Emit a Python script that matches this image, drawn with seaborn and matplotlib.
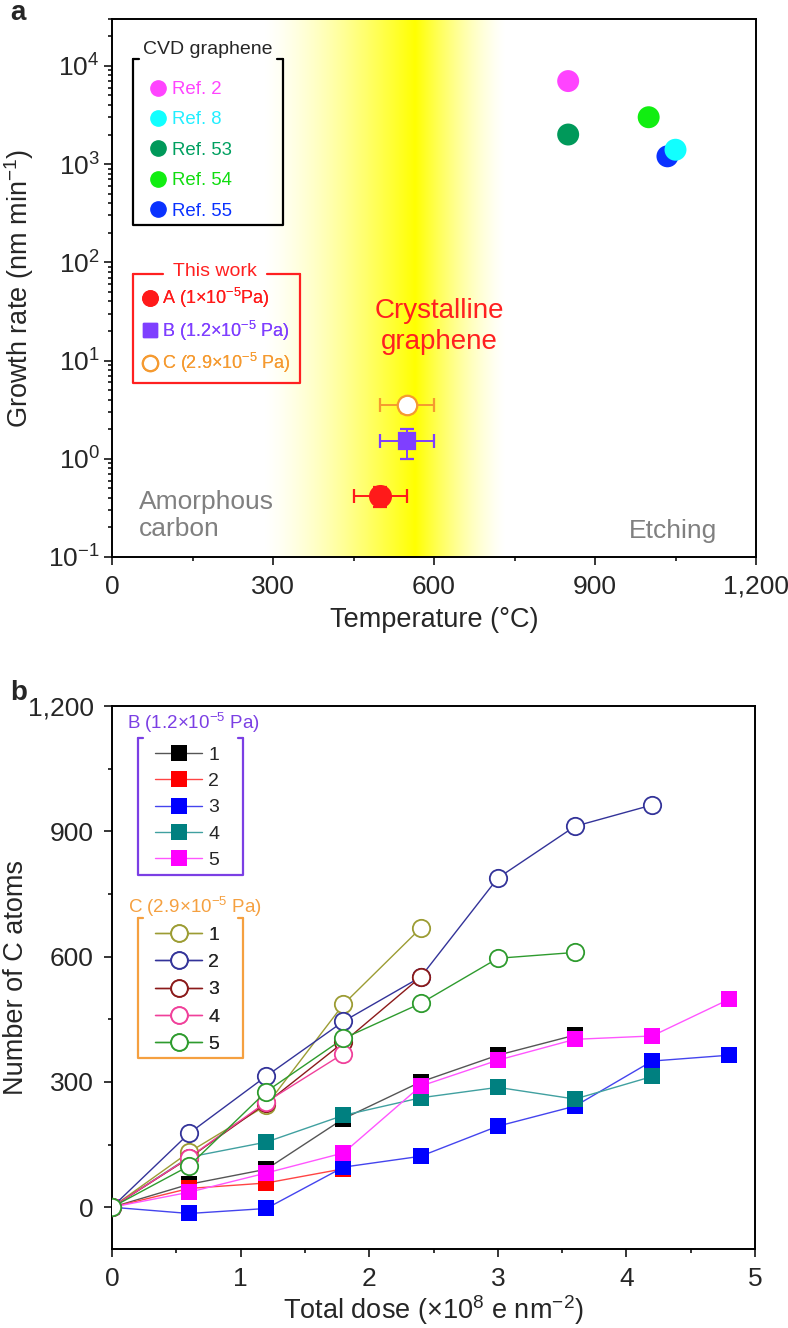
import numpy as np
import pandas as pd
import matplotlib
matplotlib.use('Agg')
import matplotlib.pyplot as plt
from matplotlib.lines import Line2D
from matplotlib.ticker import MultipleLocator, StrMethodFormatter, LogLocator, NullFormatter
import seaborn as sns

# ---- panel a : growth rate vs temperature ----
cvd_refs = ['Ref. 2', 'Ref. 8', 'Ref. 53', 'Ref. 54', 'Ref. 55']
cvd_temp = [850, 1050, 850, 1000, 1035]
cvd_rate = [7000, 1400, 2000, 3000, 1200]
cvd_colors = ['#ff44ff', '#11ffff', '#00995a', '#11ee11', '#0a32ff']
cvd_text_colors = ['#ff44ff', '#22eeff', '#00a060', '#11dd11', '#0a32ff']
cvd_draw_order = ['Ref. 2', 'Ref. 53', 'Ref. 54', 'Ref. 55', 'Ref. 8']

work_labels = ['A (1×10$^{-5}$Pa)', 'B (1.2×10$^{-5}$ Pa)', 'C (2.9×10$^{-5}$ Pa)']
work_temp = [500, 550, 550]
work_temp_err = [50, 50, 50]
work_rate = [0.42, 1.5, 3.5]
work_rate_lo = [0.1, 0.5, 0.6]
work_rate_hi = [0.1, 0.5, 0.6]
work_colors = ['#ff1a1a', '#7f3fff', '#f59a30']

# ---- panel b : number of C atoms vs total dose ----
dose = [0, 0.6, 1.2, 1.8, 2.4, 3.0, 3.6, 4.2, 4.8]
b_series = {
    '1': [0, 55, 91, 212, 300, 364, 412],
    '2': [0, 45, 58, 92],
    '3': [0, -15, -3, 96, 122, 194, 242, 350, 364],
    '4': [0, 120, 156, 220, 262, 287, 259, 313],
    '5': [0, 36, 82, 130, 290, 352, 402, 410, 498],
}
c_series = {
    '1': [0, 132, 244, 486, 668],
    '2': [0, 177, 314, 445, 551, 788, 912, 963],
    '3': [0, 118, 249, 395, 551],
    '4': [0, 119, 252, 368],
    '5': [0, 99, 277, 404, 488, 596, 610],
}
b_marker_colors = ['#000000', '#ff0000', '#0000ff', '#008080', '#ff00ff']
b_line_colors = ['#555555', '#ff4444', '#4444ee', '#40a0a0', '#ff55ff']
c_colors = ['#9c9c33', '#333399', '#8b1a1a', '#f0409a', '#2e9b2e']

B_COL = '#7b3fe4'
C_COL = '#f5a040'
RED = '#ff2020'
TICK_FS = 19
LABEL_FS = 19.5

sns.set_theme(style='ticks')
plt.rcParams['font.family'] = ['Liberation Sans', 'DejaVu Sans']
plt.rcParams['mathtext.fontset'] = 'custom'
plt.rcParams['mathtext.rm'] = 'Liberation Sans'
plt.rcParams['mathtext.it'] = 'Liberation Sans:italic'
plt.rcParams['mathtext.bf'] = 'Liberation Sans:bold'
plt.rcParams['axes.linewidth'] = 1.4
plt.rcParams['axes.edgecolor'] = 'black'

fig = plt.figure(figsize=(7.88, 13.28), dpi=100)
pos_a = [112 / 788, 1 - 557 / 1328, 644 / 788, 538 / 1328]
pos_b = [112 / 788, 1 - 1249 / 1328, 643 / 788, 543 / 1328]

# yellow band behind panel a
ax_bg = fig.add_axes(pos_a, zorder=0)
band_x = np.linspace(0, 1200, 1201)
peak = 565
alpha = np.where(band_x < peak, (band_x - 280) / (peak - 280), (735 - band_x) / (735 - peak))
alpha = np.clip(alpha, 0, 1) ** 1.4
rgba = np.zeros((1, band_x.size, 4))
rgba[..., 0] = 1
rgba[..., 1] = 1
rgba[..., 3] = alpha
ax_bg.imshow(rgba, extent=(0, 1200, 0, 1), aspect='auto', interpolation='bilinear')
ax_bg.set_xlim(0, 1200)
ax_bg.set_ylim(0, 1)
ax_bg.axis('off')

ax = fig.add_axes(pos_a, zorder=1)
ax.patch.set_alpha(0)

df_cvd = pd.DataFrame({'ref': cvd_refs, 'temp': cvd_temp, 'rate': cvd_rate})
df_cvd = df_cvd.set_index('ref').loc[cvd_draw_order].reset_index()
sns.scatterplot(data=df_cvd, x='temp', y='rate', hue='ref',
                palette=dict(zip(cvd_refs, cvd_colors)), s=250,
                linewidth=0, legend=False, ax=ax, zorder=3)

for i in range(3):
    face = 'white' if i == 2 else work_colors[i]
    mk = 's' if i == 1 else 'o'
    ms = [15, 11, 14][i]
    ax.errorbar(work_temp[i], work_rate[i], xerr=work_temp_err[i],
                yerr=[[work_rate_lo[i]], [work_rate_hi[i]]],
                fmt=mk, ms=ms, mfc=face, mec=work_colors[i], mew=1.6,
                ecolor=work_colors[i], elinewidth=1.4, capsize=5, capthick=1.4,
                zorder=4)

ax.set_yscale('log')
ax.set_xlim(0, 1200)
ax.set_ylim(0.1, 3e4)
ax.xaxis.set_major_locator(MultipleLocator(300))
ax.xaxis.set_minor_locator(MultipleLocator(150))
ax.xaxis.set_major_formatter(StrMethodFormatter('{x:,.0f}'))
ax.yaxis.set_major_locator(LogLocator(base=10, numticks=10))
ax.yaxis.set_minor_locator(LogLocator(base=10, subs=np.arange(2, 10), numticks=20))
ax.yaxis.set_minor_formatter(NullFormatter())
ax.tick_params(which='both', direction='out', top=False, right=False, labelsize=TICK_FS, width=1.3)
ax.tick_params(which='major', length=5.8)
ax.tick_params(which='minor', length=2.9)
ax.tick_params(axis='x', which='major', pad=7)
ax.tick_params(axis='y', which='major', pad=3)
ax.set_xlabel('Temperature (°C)', fontsize=LABEL_FS, labelpad=6)
ax.set_ylabel('Growth rate (nm min$^{-1}$)', fontsize=LABEL_FS)
ax.yaxis.set_label_coords((36 - 112) / 644, 0.5)

ax.text(610, 22, 'Crystalline\ngraphene', color=RED, fontsize=20, ha='center', va='center', linespacing=1.25)
ax.text(50, 10 ** -0.574, 'Amorphous\ncarbon', color='#808080', fontsize=19, ha='left', va='center', linespacing=1.15)
ax.text(1127, 10 ** -0.736, 'Etching', color='#808080', fontsize=19, ha='right', va='center')


def px_a(px, py):
    return ((px - 112) / 644, (557 - py) / 538)


def px_b(px, py):
    return ((px - 112) / 643, (1249 - py) / 543)


def bracket(axis, conv, left, right, top, bottom, color, gaps):
    # gaps: pixel segments drawn on the top edge
    pts = [conv(left, top), conv(left, bottom), conv(right, bottom), conv(right, top)]
    axis.plot([p[0] for p in pts], [p[1] for p in pts], color=color, lw=1.6,
              transform=axis.transAxes, clip_on=False, zorder=5)
    for x0, x1 in gaps:
        p0, p1 = conv(x0, top), conv(x1, top)
        axis.plot([p0[0], p1[0]], [p0[1], p1[1]], color=color, lw=1.6,
                  transform=axis.transAxes, clip_on=False, zorder=5)


# CVD legend
cvd_handles = [Line2D([], [], ls='none', marker='o', ms=11, mfc=c, mec=c) for c in cvd_colors]
leg1 = ax.legend(cvd_handles, cvd_refs, labelcolor=cvd_text_colors, loc='upper left',
                 bbox_to_anchor=px_a(150, 81), frameon=False, fontsize=13.4,
                 handlelength=0.85, handletextpad=0.35, labelspacing=0.72,
                 borderpad=0, borderaxespad=0)
ax.add_artist(leg1)
bracket(ax, px_a, 133, 283, 59, 225, 'black', [(133, 139), (277, 283)])
ax.text(*px_a(208, 49), 'CVD graphene', transform=ax.transAxes, fontsize=14,
        ha='center', va='center')

# This work legend
work_handles = [
    Line2D([], [], ls='none', marker='o', ms=11, mfc=work_colors[0], mec=work_colors[0]),
    Line2D([], [], ls='none', marker='s', ms=10, mfc=work_colors[1], mec=work_colors[1]),
    Line2D([], [], ls='none', marker='o', ms=11, mfc='white', mec=work_colors[2], mew=1.6),
]
leg2 = ax.legend(work_handles, work_labels, labelcolor=work_colors, loc='upper left',
                 bbox_to_anchor=px_a(142, 286), frameon=False, fontsize=13,
                 handlelength=0.85, handletextpad=0.25, labelspacing=0.46,
                 borderpad=0, borderaxespad=0)
ax.add_artist(leg2)
bracket(ax, px_a, 133, 300, 274, 383, RED, [(133, 163), (267, 300)])
ax.text(*px_a(215, 272), 'This work', transform=ax.transAxes, fontsize=14,
        color=RED, ha='center', va='center')

fig.text(10 / 788, 1 - 13 / 1328, 'a', fontsize=20, fontweight='bold', ha='left', va='center')

# ---- panel b ----
axb = fig.add_axes(pos_b)
for i, (name, vals) in enumerate(b_series.items()):
    sns.lineplot(x=dose[:len(vals)], y=vals, ax=axb, color=b_line_colors[i], lw=1.0,
                 marker='s', markersize=11.5, markerfacecolor=b_marker_colors[i],
                 markeredgewidth=0, sort=False, errorbar=None, legend=False, zorder=3)
for i, (name, vals) in enumerate(c_series.items()):
    sns.lineplot(x=dose[:len(vals)], y=vals, ax=axb, color=c_colors[i], lw=1.0,
                 marker='o', markersize=12.5, markerfacecolor='white',
                 markeredgecolor=c_colors[i], markeredgewidth=1.3,
                 sort=False, errorbar=None, legend=False, zorder=4)

axb.set_xlim(0, 5)
axb.set_ylim(-100, 1200)
axb.xaxis.set_major_locator(MultipleLocator(1))
axb.xaxis.set_minor_locator(MultipleLocator(0.5))
axb.yaxis.set_major_locator(MultipleLocator(300))
axb.yaxis.set_minor_locator(MultipleLocator(150))
axb.yaxis.set_major_formatter(StrMethodFormatter('{x:,.0f}'))
axb.tick_params(which='both', direction='out', top=False, right=False, labelsize=TICK_FS, width=1.3)
axb.tick_params(which='major', length=5.8, pad=7.5)
axb.tick_params(which='minor', length=2.9)
axb.set_xlabel('Total dose (×10$^{8}$ e nm$^{-2}$)', fontsize=LABEL_FS, labelpad=1)
axb.set_ylabel('Number of C atoms', fontsize=LABEL_FS)
axb.yaxis.set_label_coords((29 - 112) / 643, 0.5)

b_handles = [Line2D([], [], color=b_line_colors[i], lw=1.0, marker='s', ms=11,
                    mfc=b_marker_colors[i], mew=0) for i in range(5)]
legb = axb.legend(b_handles, list(b_series.keys()), loc='upper left',
                  bbox_to_anchor=px_b(155, 746.5), frameon=False, fontsize=14,
                  handlelength=2.42, handletextpad=0.31, labelspacing=0.44,
                  borderpad=0, borderaxespad=0)
axb.add_artist(legb)
bracket(axb, px_b, 138, 243, 738, 875, B_COL, [(138, 143), (238, 243)])
axb.text(*px_b(193, 723), 'B (1.2×10$^{-5}$ Pa)', transform=axb.transAxes, fontsize=13.5,
         color=B_COL, ha='center', va='center')

c_handles = [Line2D([], [], color=c_colors[i], lw=1.0, marker='o', ms=12,
                    mfc='white', mec=c_colors[i], mew=1.3) for i in range(5)]
legc = axb.legend(c_handles, list(c_series.keys()), loc='upper left',
                  bbox_to_anchor=px_b(155, 926.5), frameon=False, fontsize=14,
                  handlelength=2.42, handletextpad=0.31, labelspacing=0.49,
                  borderpad=0, borderaxespad=0)
axb.add_artist(legc)
bracket(axb, px_b, 138, 243, 918, 1058, C_COL, [(138, 143), (238, 243)])
axb.text(*px_b(195, 907), 'C (2.9×10$^{-5}$ Pa)', transform=axb.transAxes, fontsize=13.5,
         color=C_COL, ha='center', va='center')

fig.text(10 / 788, 1 - 693 / 1328, 'b', fontsize=20, fontweight='bold', ha='left', va='center')

fig.savefig('out.png', dpi=100)
plt.close(fig)
